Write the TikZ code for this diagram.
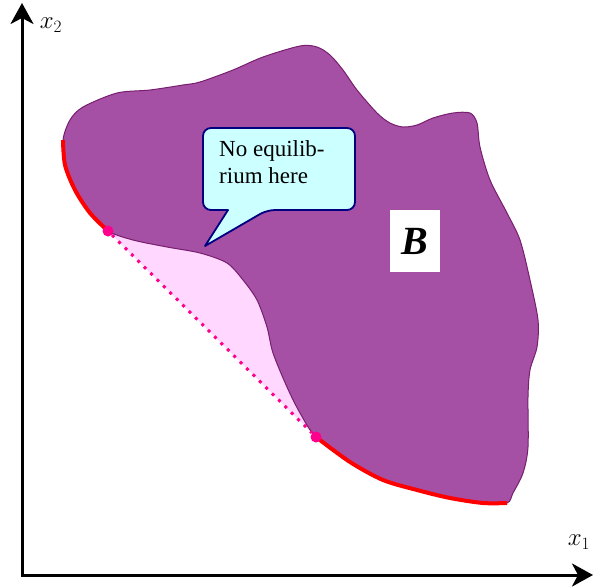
\documentclass[tikz,border=0pt]{standalone}
\usepackage{fontspec}
\setmainfont{Liberation Serif}
\usetikzlibrary{arrows.meta}
\definecolor{setB}{RGB}{165,80,165}
\definecolor{setBline}{RGB}{120,30,110}
\definecolor{lensfill}{RGB}{255,215,255}
\definecolor{chordcol}{RGB}{255,0,140}
\definecolor{bubblefill}{RGB}{204,255,255}
\definecolor{bubbleline}{RGB}{0,0,128}

\begin{document}
\begin{tikzpicture}[
  x=1pt, y=-1pt,
  axis/.style={line width=3pt, {Stealth[length=21pt 0,width=23pt 0,inset=6pt 0]}-{Stealth[length=21pt 0,width=23pt 0,inset=6pt 0]}},
  axlabel/.style={font=\fontsize{24}{24}\selectfont, inner sep=0pt},
  region/.style={fill=setB, draw=setBline, line width=1pt},
  lens/.style={fill=lensfill},
  redarc/.style={draw=red, line width=4pt},
  chord/.style={draw=chordcol, line width=3pt, dash pattern=on 3pt off 6pt},
  tdot/.style={circle, fill=chordcol, minimum size=11pt, inner sep=0pt},
  bubble/.style={fill=bubblefill, draw=bubbleline, line width=1.8pt, line join=round},
  bubtext/.style={align=left, inner sep=0pt, font=\fontsize{23}{27}\selectfont},
  labelbox/.style={fill=white, minimum width=50pt, minimum height=62pt, inner sep=0pt,
    font=\fontsize{40}{40}\selectfont\bfseries\itshape}
]
\useasboundingbox (0,0) rectangle (594,587);

% axes
\coordinate (O) at (22,575);
\coordinate (ytip) at (22,3);
\coordinate (xtip) at (593,575);
\draw[axis] (ytip) -- (O) -- (xtip);
\node[axlabel] (lx2) at (51,25) {$x_2$};
\node[axlabel] (lx1) at (579,542) {$x_1$};

% region between the chord and B
\fill[lens] plot[smooth, tension=0.5] coordinates {(316,437) (300,413) (287,387) (273,353) (267,327) (257,300) (243,280) (227,263) (200,253) (167,247) (133,240) (108,231)} -- cycle;

% the set B
\path[region] plot[smooth cycle, tension=0.5] coordinates {
  (63,140) (70,120) (83,107) (117,93) (150,90) (183,85) (200,82) (233,70)
  (263,57) (300,46) (317,47) (330,55) (343,70) (357,90) (377,113) (390,123)
  (403,127) (417,125) (433,118) (453,113) (470,113) (477,123) (480,147)
  (490,180) (507,213) (520,240) (530,280) (538,320) (537,347) (530,370)
  (528,397) (528,447) (523,473) (513,493) (507,503) (483,503) (450,498)
  (417,490) (383,480) (350,462) (316,437) (300,413) (287,387) (273,353)
  (267,327) (257,300) (243,280) (227,263) (200,253) (167,247) (133,240)
  (108,231) (90,213) (75,190) (65,165)};

% efficient parts of the boundary
\draw[redarc] plot[smooth, tension=0.5] coordinates {(63,140) (65,165) (75,190) (90,213) (108,231)};
\draw[redarc] plot[smooth, tension=0.5] coordinates {(316,437) (350,462) (383,480) (417,490) (450,498) (483,503) (507,503)};

% chord
\node[tdot] (tA) at (108,231) {};
\node[tdot] (tB) at (316,437) {};
\draw[chord] (tA) -- (tB);

% callout
\draw[bubble] (203,170) [rounded corners=8pt] -- (203,128) -- (355,128) -- (355,210)
  -- (267,210) [sharp corners] -- (205,246) -- (228,210) [rounded corners=8pt] -- (203,210) -- cycle;
\node[bubtext, anchor=north west] (note) at (219,140) {No equilib-\\rium here};

\node[labelbox] (lB) at (415,241) {B};
\end{tikzpicture}
\end{document}
